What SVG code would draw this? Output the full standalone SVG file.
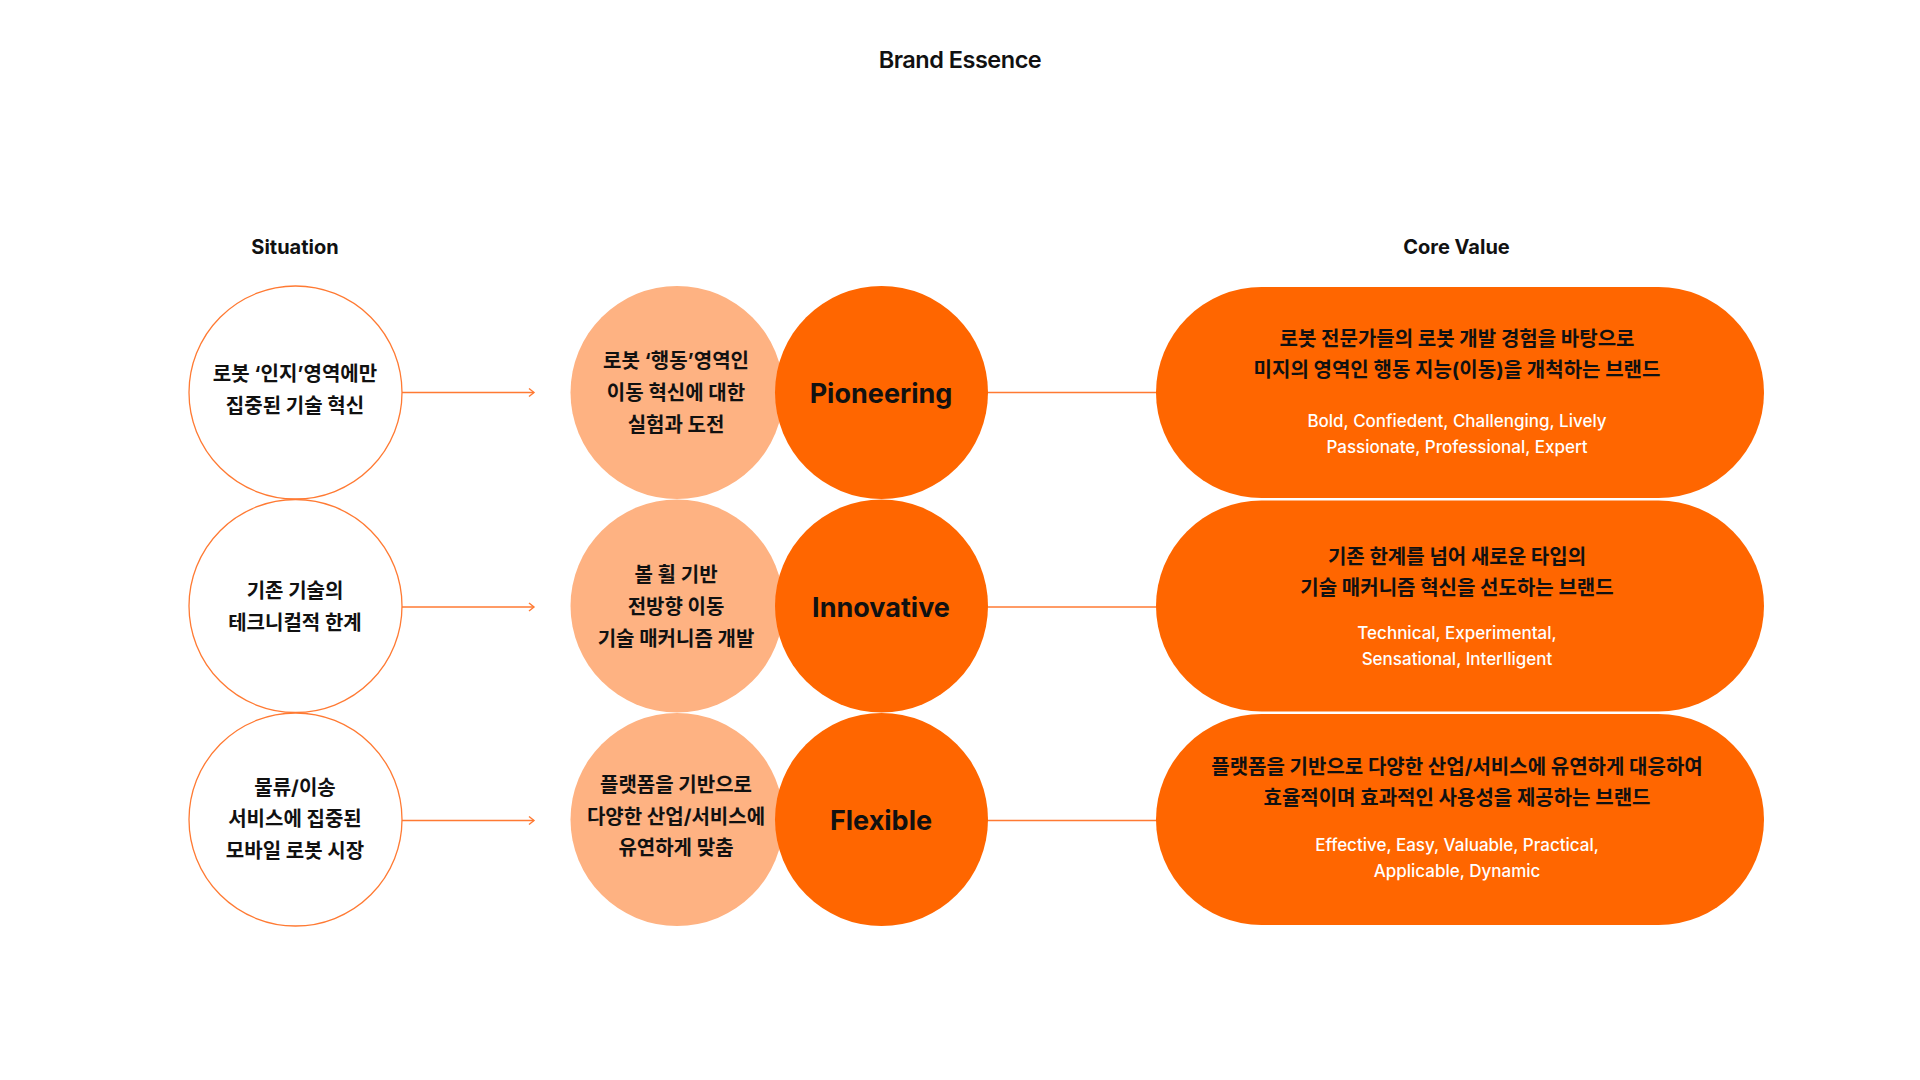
<svg xmlns="http://www.w3.org/2000/svg" width="1920" height="1080" viewBox="0 0 1920 1080">
  <defs>
    <style>
      .bg { fill: #ffffff; }
      .sit { fill: #ffffff; stroke: #FF7A33; stroke-width: 1.3; }
      .peach { fill: #FEB282; }
      .core { fill: #FF6600; }
      .pill { fill: #FF6600; }
      .conn { stroke: #FF7A33; stroke-width: 1.5; fill: none; }
      .kr { font-family: "Inter", "Noto Sans CJK KR", sans-serif; font-weight: 700; font-size: 20px; fill: #111111; text-anchor: middle; }
      .en { font-family: "Inter", "Noto Sans CJK KR", sans-serif; font-weight: 500; font-size: 17px; fill: #ffffff; text-anchor: middle; }
      .big { font-family: "Inter", sans-serif; font-weight: 700; font-size: 27px; fill: #111111; text-anchor: middle; }
      .head { font-family: "Inter", sans-serif; font-weight: 700; font-size: 20px; fill: #111111; text-anchor: middle; }
      .title { font-family: "Inter", sans-serif; font-weight: 600; font-size: 23.5px; letter-spacing: -0.5px; fill: #111111; text-anchor: middle; }
    </style>
    <marker id="chev" markerUnits="userSpaceOnUse" markerWidth="12" markerHeight="12" viewBox="0 0 12 12" refX="6" refY="6" orient="auto">
      <polyline points="1,2 6,6 1,10" fill="none" stroke="#FF7A33" stroke-width="1.4"/>
    </marker>
  </defs>
  <rect class="bg" x="0" y="0" width="1920" height="1080"/>

  <text class="title" x="960" y="68">Brand Essence</text>
  <text class="head" x="295" y="253.5">Situation</text>
  <text class="head" x="1456.5" y="253.5">Core Value</text>

  <g id="connectors">
    <line class="conn" x1="402" y1="392.5" x2="534" y2="392.5" marker-end="url(#chev)"/>
    <line class="conn" x1="402" y1="607" x2="534" y2="607" marker-end="url(#chev)"/>
    <line class="conn" x1="402" y1="820.5" x2="534" y2="820.5" marker-end="url(#chev)"/>
    <line class="conn" x1="985" y1="392.5" x2="1160" y2="392.5"/>
    <line class="conn" x1="985" y1="607" x2="1160" y2="607"/>
    <line class="conn" x1="985" y1="820.5" x2="1160" y2="820.5"/>
  </g>

  <g id="situation-1">
    <circle class="sit" cx="295.5" cy="392.5" r="106.5"/>
    <text class="kr" x="295" y="380.5">로봇 ‘인지’영역에만</text>
    <text class="kr" x="295" y="412.5">집중된 기술 혁신</text>
  </g>
  <g id="situation-2">
    <circle class="sit" cx="295.5" cy="606" r="106.5"/>
    <text class="kr" x="295" y="598">기존 기술의</text>
    <text class="kr" x="295" y="630">테크니컬적 한계</text>
  </g>
  <g id="situation-3">
    <circle class="sit" cx="295.5" cy="819.5" r="106.5"/>
    <text class="kr" x="295" y="794.5">물류/이송</text>
    <text class="kr" x="295" y="826">서비스에 집중된</text>
    <text class="kr" x="295" y="857.5">모바일 로봇 시장</text>
  </g>

  <g id="action-1">
    <circle class="peach" cx="677" cy="392.5" r="106.5"/>
    <text class="kr" x="676" y="368">로봇 ‘행동’영역인</text>
    <text class="kr" x="676" y="400">이동 혁신에 대한</text>
    <text class="kr" x="676" y="431.5">실험과 도전</text>
  </g>
  <g id="action-2">
    <circle class="peach" cx="677" cy="606" r="106.5"/>
    <text class="kr" x="676" y="581.5">볼 휠 기반</text>
    <text class="kr" x="676" y="614">전방향 이동</text>
    <text class="kr" x="676" y="645.5">기술 매커니즘 개발</text>
  </g>
  <g id="action-3">
    <circle class="peach" cx="677" cy="819.5" r="106.5"/>
    <text class="kr" x="676" y="791.5">플랫폼을 기반으로</text>
    <text class="kr" x="676" y="823.5">다양한 산업/서비스에</text>
    <text class="kr" x="676" y="854.5">유연하게 맞춤</text>
  </g>

  <g id="essence-pioneering">
    <circle class="core" cx="881.5" cy="392.5" r="106.5"/>
    <text class="big" x="881" y="402.5">Pioneering</text>
  </g>
  <g id="essence-innovative">
    <circle class="core" cx="881.5" cy="606" r="106.5"/>
    <text class="big" x="881" y="617">Innovative</text>
  </g>
  <g id="essence-flexible">
    <circle class="core" cx="881.5" cy="819.5" r="106.5"/>
    <text class="big" x="881" y="830">Flexible</text>
  </g>

  <g id="core-value-1">
    <rect class="pill" x="1156" y="287" width="608" height="211" rx="105.5" ry="105.5"/>
    <text class="kr" x="1457" y="345.5">로봇 전문가들의 로봇 개발 경험을 바탕으로</text>
    <text class="kr" x="1457" y="377">미지의 영역인 행동 지능(이동)을 개척하는 브랜드</text>
    <text class="en" x="1457" y="427">Bold, Confiedent, Challenging, Lively</text>
    <text class="en" x="1457" y="452.5">Passionate, Professional, Expert</text>
  </g>
  <g id="core-value-2">
    <rect class="pill" x="1156" y="500.5" width="608" height="211" rx="105.5" ry="105.5"/>
    <text class="kr" x="1457" y="563.5">기존 한계를 넘어 새로운 타입의</text>
    <text class="kr" x="1457" y="595">기술 매커니즘 혁신을 선도하는 브랜드</text>
    <text class="en" x="1457" y="639">Technical, Experimental,</text>
    <text class="en" x="1457" y="664.5">Sensational, Interlligent</text>
  </g>
  <g id="core-value-3">
    <rect class="pill" x="1156" y="714" width="608" height="211" rx="105.5" ry="105.5"/>
    <text class="kr" x="1457" y="773.5">플랫폼을 기반으로 다양한 산업/서비스에 유연하게 대응하여</text>
    <text class="kr" x="1457" y="805">효율적이며 효과적인 사용성을 제공하는 브랜드</text>
    <text class="en" x="1457" y="851">Effective, Easy, Valuable, Practical,</text>
    <text class="en" x="1457" y="876.5">Applicable, Dynamic</text>
  </g>
</svg>
